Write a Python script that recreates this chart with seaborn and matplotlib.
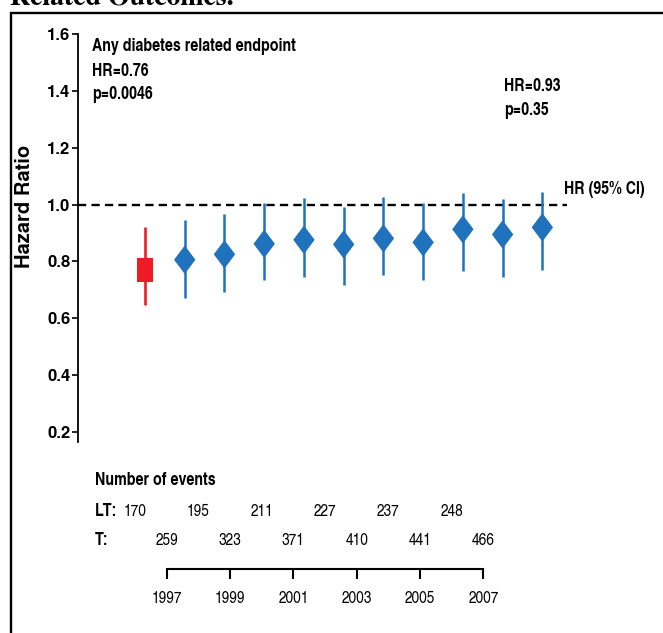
import matplotlib
matplotlib.use("Agg")
import matplotlib.pyplot as plt
import matplotlib.transforms as mtransforms
from matplotlib.patches import Rectangle
import seaborn as sns
import pandas as pd

# ---------------- data ----------------
periods = ["1997 trial end", "1998", "1999", "2000", "2001", "2002",
           "2003", "2004", "2005", "2006", "2007"]
groups = ["trial", "post", "post", "post", "post", "post",
          "post", "post", "post", "post", "post"]
hr = [0.77, 0.806, 0.825, 0.862, 0.876, 0.860, 0.881, 0.867, 0.913, 0.895, 0.920]
ci_low = [0.646, 0.673, 0.694, 0.733, 0.747, 0.717, 0.752, 0.733, 0.768, 0.747, 0.771]
ci_high = [0.920, 0.946, 0.967, 1.007, 1.023, 0.991, 1.028, 1.007, 1.042, 1.021, 1.044]

yticks = [0.2, 0.4, 0.6, 0.8, 1.0, 1.2, 1.4, 1.6]

lt_years = [1996, 1998, 2000, 2002, 2004, 2006]
lt_events = [170, 195, 211, 227, 237, 248]
t_years = [1997, 1999, 2001, 2003, 2005, 2007]
t_events = [259, 323, 371, 410, 441, 466]
axis_years = [1997, 1999, 2001, 2003, 2005, 2007]

df = pd.DataFrame({"period": periods, "group": groups, "hr": hr,
                   "lo": ci_low, "hi": ci_high})
df["pos"] = range(len(df))

# ---------------- style ----------------
sns.set_theme(style="white")
CN = ["TeX Gyre Heros Cn", "Liberation Sans", "DejaVu Sans"]
HEROS = ["TeX Gyre Heros", "Liberation Sans", "DejaVu Sans"]
plt.rcParams["font.family"] = CN
for k in ["text.color", "axes.labelcolor", "xtick.color", "ytick.color", "axes.edgecolor"]:
    plt.rcParams[k] = "black"

RED = "#ED1C24"
BLUE = "#1F72BB"

W, H = 663, 633
fig = plt.figure(figsize=(W / 100, H / 100), dpi=100)
fig.patch.set_facecolor("white")


def fx(px):
    return px / W


def fy(py):
    return 1 - py / H


def ftext(xpx, ypx, s, **kw):
    kw.setdefault("va", "center")
    kw.setdefault("ha", "left")
    return fig.text(fx(xpx), fy(ypx), s, **kw)


# ---------------- main axes ----------------
ax = fig.add_axes([fx(78), fy(441.7), (567 - 78) / W, (441.7 - 34) / H])
ax.patch.set_visible(False)
ax.set_ylim(0.166, 1.6)
ax.set_xlim(-1.686, 10.62)

for s in ["top", "right", "bottom"]:
    ax.spines[s].set_visible(False)
ax.spines["left"].set_linewidth(1.3)
ax.set_xticks([])
ax.set_yticks(yticks)
ax.set_yticklabels([f"{v:.1f}" for v in yticks], fontweight="bold", fontsize=12,
                   family=HEROS)
ax.tick_params(axis="y", direction="out", length=4.5, width=1.2, pad=1,
               colors="black", left=True)

# reference line
ax.axhline(1.0, color="black", lw=1.7, ls=(0, (3.5, 2.2)), zorder=1)

trial = df[df["group"] == "trial"]
post = df[df["group"] == "post"]

ax.vlines(trial["pos"], trial["lo"], trial["hi"], colors=RED, lw=1.9, zorder=2)
ax.vlines(post["pos"], post["lo"], post["hi"], colors=BLUE, lw=1.8, zorder=2)

diamond = [(0, 1), (0.75, 0), (0, -1), (-0.75, 0), (0, 1)]
rect = [(-0.66, -1), (0.66, -1), (0.66, 1), (-0.66, 1), (-0.66, -1)]

sns.scatterplot(data=post, x="pos", y="hr", marker=diamond, s=20.5 ** 2,
                color=BLUE, edgecolor="none", linewidth=0, ax=ax,
                zorder=3, legend=False)
sns.scatterplot(data=trial, x="pos", y="hr", marker=rect, s=16.8 ** 2,
                color=RED, edgecolor="none", linewidth=0, ax=ax,
                zorder=3, legend=False)
ax.set_xlabel("")
ax.set_ylabel("")

# annotations
ftext(91.7, 46.7, "Any diabetes related endpoint", fontweight="bold", fontsize=12.5)
ftext(91.7, 71.2, "HR=0.76", fontweight="bold", fontsize=12.5)
ftext(91.7, 94.5, "p=0.0046", fontweight="bold", fontsize=12.5)
ftext(504, 86.7, "HR=0.93", fontweight="bold", fontsize=12.5)
ftext(504, 110.7, "p=0.35", fontweight="bold", fontsize=12.5)
ftext(564, 189, "HR (95% CI)", fontweight="bold", fontsize=12.5)

ftext(25, 206.7, "Hazard Ratio", rotation=90, ha="center",
      family=HEROS, fontweight="bold", fontsize=14.5)

# ---------------- timeline / events axes ----------------
ax2 = fig.add_axes([fx(60), fy(569.3), 500 / W, (569.3 - 460) / H])
ax2.patch.set_visible(False)
ax2.set_xlim(1993.63, 2009.42)
ax2.set_ylim(0, 1)
for s in ["top", "right", "left"]:
    ax2.spines[s].set_visible(False)
ax2.spines["bottom"].set_bounds(axis_years[0], axis_years[-1])
ax2.spines["bottom"].set_linewidth(1.5)
ax2.set_yticks([])
ax2.set_xticks(axis_years)
ax2.set_xticklabels([str(y) for y in axis_years], fontsize=12)
ax2.tick_params(axis="x", direction="out", length=7.5, width=1.5, pad=8,
                colors="black", bottom=True)

row_tr = mtransforms.blended_transform_factory(fig.transFigure, ax2.transAxes)
ax2.text(fx(95), 0.81, "Number of events", transform=row_tr, fontweight="bold",
         fontsize=12.5, va="center", ha="left")
ax2.text(fx(95), 0.53, "LT:", transform=row_tr, fontweight="bold",
         fontsize=12.5, va="center", ha="left")
ax2.text(fx(95), 0.262, "T:", transform=row_tr, fontweight="bold",
         fontsize=12.5, va="center", ha="left")

xt = ax2.get_xaxis_transform()
for yr, n in zip(lt_years, lt_events):
    ax2.text(yr, 0.53, str(n), transform=xt, fontsize=12, ha="center", va="center")
for yr, n in zip(t_years, t_events):
    ax2.text(yr, 0.262, str(n), transform=xt, fontsize=12, ha="center", va="center")

# ---------------- slide frame and cut-off title ----------------
fig.add_artist(Rectangle((fx(11), -0.05), 1.1, fy(13.2) + 0.05, fill=False,
                         lw=1.7, edgecolor="black", transform=fig.transFigure))
fig.text(fx(10), fy(4.5), "Related Outcomes.",
         family=["TeX Gyre Termes", "Liberation Serif", "DejaVu Serif"],
         fontweight="bold", fontsize=20, va="baseline", ha="left")

fig.savefig("out.png", dpi=100)
